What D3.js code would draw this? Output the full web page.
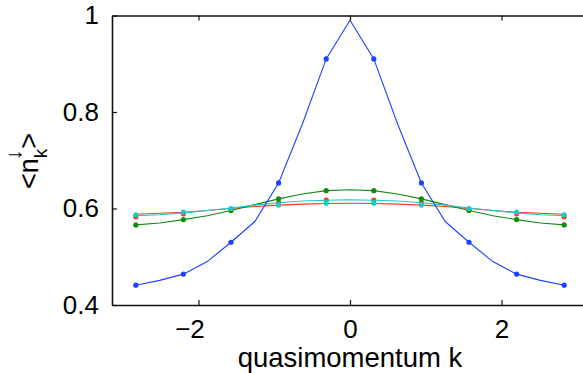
<!DOCTYPE html>
<html>
<head>
<meta charset="utf-8">
<script src="https://cdn.jsdelivr.net/npm/d3@7"></script>
<style>
  html, body { margin: 0; padding: 0; background: #fff; }
  svg { display: block; font-family: "Liberation Sans", Arial, Helvetica, sans-serif; }
</style>
</head>
<body>
<svg id="chart" width="583" height="373"></svg>
<script>
// Momentum grid: curves on k = m*pi/10 (m = -9..9), markers on odd m only
const lineSteps = d3.range(-9, 10);
const dotSteps = [-9, -7, -5, -3, -1, 1, 3, 5, 7, 9];

// Curve values for m = 0..9 (mirrored for negative m)
const blueLine  = [0.990, 0.910, 0.775, 0.653, 0.573, 0.530, 0.490, 0.464, 0.451, 0.441];
const redLine   = [0.611, 0.6105, 0.609, 0.607, 0.604, 0.600, 0.596, 0.592, 0.590, 0.588];
const cyanLine  = [0.618, 0.617, 0.6155, 0.612, 0.607, 0.601, 0.596, 0.591, 0.587, 0.585];
const greenLine = [0.639, 0.637, 0.630, 0.620, 0.608, 0.596, 0.585, 0.577, 0.570, 0.566];

// Marker values for m = 1, 3, 5, 7, 9 (mirrored)
const blueDots  = [0.910, 0.653, 0.530, 0.464, 0.441];
const redDots   = [0.6176, 0.612, 0.599, 0.589, 0.583];
const cyanDots  = [0.611, 0.607, 0.600, 0.5927, 0.587];
const greenDots = [0.637, 0.620, 0.596, 0.577, 0.566];

const xTicks = [-2, 0, 2];
const yTicks = [0.4, 0.6, 0.8, 1];
const xLabel = "quasimomentum k";

const svg = d3.select("#chart");
const margin = { left: 112, top: 15.5, bottom: 305, right: 588 };

const x = d3.scaleLinear().domain([-Math.PI, Math.PI]).range([margin.left, margin.right]);
const y = d3.scaleLinear().domain([0.4, 1]).range([margin.bottom, margin.top]);

const lineVal = (arr, m) => arr[Math.abs(m)];
const dotVal = (arr, m) => arr[(Math.abs(m) - 1) / 2];

const series = [
  { color: "#ff3a10", line: redLine,   dots: redDots },
  { color: "#108c10", line: greenLine, dots: greenDots },
  { color: "#1ec8cc", line: cyanLine,  dots: cyanDots },
  { color: "#1f40ff", line: blueLine,  dots: blueDots }
];

const plot = svg.append("g");
const lineGen = d3.line().x(d => x(d[0])).y(d => y(d[1]));

series.forEach(s => {
  const pts = lineSteps.map(m => [m * Math.PI / 10, lineVal(s.line, m)]);
  plot.append("path")
    .attr("d", lineGen(pts))
    .attr("fill", "none")
    .attr("stroke", s.color)
    .attr("stroke-width", 1.1);
  plot.selectAll(null)
    .data(dotSteps.map(m => [m * Math.PI / 10, dotVal(s.dots, m)]))
    .enter().append("circle")
    .attr("cx", d => x(d[0]))
    .attr("cy", d => y(d[1]))
    .attr("r", 2.6)
    .attr("fill", s.color);
});

// Axes box with inward ticks
const axisColor = "#111";
const fontSize = 26;

const bottomAxis = d3.axisBottom(x).tickValues(xTicks).tickSizeInner(-5).tickSizeOuter(0)
  .tickFormat(d => d < 0 ? "\u2212" + Math.abs(d) : String(d)).tickPadding(15);
const topAxis = d3.axisTop(x).tickValues(xTicks).tickSizeInner(-5).tickSizeOuter(0).tickFormat("");
const leftAxis = d3.axisLeft(y).tickValues(yTicks).tickSizeInner(-5).tickSizeOuter(0)
  .tickFormat(d => d === 1 ? "1" : d3.format(".1f")(d)).tickPadding(13);

function styleAxis(g) {
  g.select(".domain").attr("stroke", axisColor).attr("stroke-width", 1.6);
  g.selectAll(".tick line").attr("stroke", axisColor).attr("stroke-width", 1.2);
  g.selectAll(".tick text").attr("fill", "#000").attr("font-size", fontSize)
    .attr("font-family", "Liberation Sans, Arial, sans-serif");
}

const gx = svg.append("g").attr("transform", `translate(0,${margin.bottom})`).call(bottomAxis).call(styleAxis);
// negative labels sit with their digit near the tick, minus sign hanging left
gx.selectAll(".tick text").filter(d => d < 0).attr("dx", -9);
svg.append("g").attr("transform", `translate(0,${margin.top})`).call(topAxis).call(styleAxis);
svg.append("g").attr("transform", `translate(${margin.left},0)`).call(leftAxis).call(styleAxis);
svg.append("g").attr("transform", `translate(${margin.right},0)`)
  .call(d3.axisRight(y).tickValues(yTicks).tickSizeInner(-5).tickSizeOuter(0).tickFormat(""))
  .call(styleAxis);

// X axis title
svg.append("text")
  .attr("x", x(0))
  .attr("y", 367)
  .attr("text-anchor", "middle")
  .attr("font-size", 27.5)
  .attr("fill", "#000")
  .text(xLabel);

// Y axis title: <n_k> with a down-arrow over the subscript
const yt = svg.append("g").attr("transform", "translate(38,189) rotate(-90)");
const ytext = yt.append("text").attr("x", 0).attr("y", 0).attr("font-size", 27).attr("fill", "#000");
ytext.append("tspan").text("<n");
ytext.append("tspan").attr("dy", 9).attr("font-size", 19).text("k");
ytext.append("tspan").attr("dy", -9).text(">");
const kPos = ytext.node().getStartPositionOfChar(2);
yt.append("text")
  .attr("x", kPos.x - 2)
  .attr("y", -17)
  .attr("font-size", 22)
  .attr("fill", "#000")
  .text("\u2193");
</script>
</body>
</html>
